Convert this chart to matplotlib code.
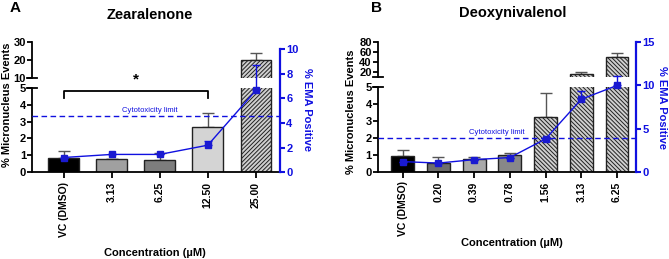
import matplotlib
matplotlib.use("Agg")
import matplotlib.pyplot as plt
import numpy as np

plt.rcParams["font.family"] = ["Liberation Sans", "DejaVu Sans"]
plt.rcParams["font.weight"] = "bold"
plt.rcParams["hatch.linewidth"] = 0.7
plt.rcParams["hatch.color"] = "#4a4a4a"

BLUE = "#1010e0"

# ---- Panel A: Zearalenone ----
zea_labels = ["VC (DMSO)", "3.13", "6.25", "12.50", "25.00"]
zea_mn = [0.83, 0.80, 0.75, 2.65, 20.0]
zea_mn_err = [0.43, 0.0, 0.42, 0.85, 4.0]
zea_ema = [1.2, 1.45, 1.45, 2.2, 6.65]
zea_ema_err = [0.0, 0.0, 0.0, 0.35, 2.05]
zea_colors = ["#000000", "#a0a0a0", "#7d7d7d", "#d4d4d4", "#cfcfcf"]
zea_hatch = ["", "", "", "", "////////"]
zea_cyto = 4.58

# ---- Panel B: Deoxynivalenol ----
don_labels = ["VC (DMSO)", "0.20", "0.39", "0.78", "1.56", "3.13", "6.25"]
don_mn = [0.92, 0.49, 0.75, 0.96, 3.2, 16.0, 50.0]
don_mn_err = [0.33, 0.35, 0.1, 0.16, 1.4, 2.5, 7.0]
don_ema = [1.17, 1.0, 1.4, 1.64, 3.8, 8.4, 10.0]
don_ema_err = [0.0, 0.0, 0.0, 0.0, 0.0, 0.95, 1.1]
don_colors = ["#000000", "#6e6e6e", "#a9a9a9", "#888888", "#cfcfcf", "#cfcfcf", "#cfcfcf"]
don_hatch = ["", "", "", "", "\\\\\\\\\\\\\\\\", "\\\\\\\\\\\\\\\\", "\\\\\\\\\\\\\\\\"]
don_cyto = 3.86

W, H = 669, 259
fig = plt.figure(figsize=(W / 100, H / 100), dpi=100)


def rect(x0, x1, ytop, ybot):
    return [x0 / W, 1 - ybot / H, (x1 - x0) / W, (ybot - ytop) / H]


def draw_panel(labels, mn, mn_err, ema, ema_err, colors, hatches, cyto,
               x0, x1, y0, y5, top_ytop, top_ybot, top_lim, top_ticks,
               r_ytop, r_max, r_ticks, xlim):
    n = len(labels)
    x = np.arange(n)
    ax = fig.add_axes(rect(x0, x1, y5, y0))
    axt = fig.add_axes(rect(x0, x1, top_ytop, top_ybot))
    axr = fig.add_axes(rect(x0, x1, r_ytop, y0))
    for a in (ax, axt):
        a.bar(x, mn, width=0.64, color=colors, edgecolor="#222222",
              linewidth=1.0, hatch=hatches, zorder=2)
        a.errorbar(x, mn, yerr=[np.zeros(n), mn_err], fmt="none",
                   ecolor="#555555", elinewidth=1.0, capsize=4, capthick=1.0,
                   zorder=1)
        a.set_xlim(*xlim)
        a.patch.set_alpha(0)
        a.spines["top"].set_visible(False)
        a.spines["right"].set_visible(False)
        for s in a.spines.values():
            s.set_linewidth(1.3)
        a.tick_params(axis="y", labelsize=8, width=1.3, length=3.5, pad=1)
    ax.set_ylim(0, 5)
    ax.set_yticks(range(6))
    ax.set_xticks(x)
    ax.set_xticklabels(labels, rotation=90, fontsize=7.5)
    ax.tick_params(axis="x", width=1.3, length=4, pad=3)
    axt.set_ylim(*top_lim)
    axt.set_yticks(top_ticks)
    axt.spines["bottom"].set_visible(False)
    axt.set_xticks([])
    # break caps
    axt.plot([-0.02, 0.02], [0, 0], transform=axt.transAxes, color="black",
             lw=1.3, clip_on=False)
    ax.plot([-0.02, 0.02], [1, 1], transform=ax.transAxes, color="black",
            lw=1.3, clip_on=False)

    axr.patch.set_alpha(0)
    axr.set_xlim(*xlim)
    axr.set_ylim(0, r_max)
    axr.set_yticks(r_ticks)
    axr.set_xticks([])
    for s in ("left", "top", "bottom"):
        axr.spines[s].set_visible(False)
    axr.spines["right"].set_color(BLUE)
    axr.spines["right"].set_linewidth(1.6)
    axr.yaxis.tick_right()
    axr.tick_params(axis="y", colors=BLUE, labelsize=8, width=1.5,
                    length=3.5, pad=1)
    axr.errorbar(x, ema, yerr=[np.zeros(n), ema_err], color=BLUE, lw=1.0,
                 marker="s", ms=4.5, mfc="#1a1ad0", mec="#1a1ad0",
                 capsize=3, elinewidth=1.0, zorder=5)
    axr.axhline(cyto, color=BLUE, lw=1.0, ls=(0, (4, 2.5)))
    return ax, axt, axr


axA, axAt, axAr = draw_panel(
    zea_labels, zea_mn, zea_mn_err, zea_ema, zea_ema_err, zea_colors,
    zea_hatch, zea_cyto, 32.3, 280, 172.3, 87.7, 41.7, 77.7, (10, 30),
    [10, 20, 30], 49, 10, [0, 2, 4, 6, 8, 10], (-0.65, 4.5))
axB, axBt, axBr = draw_panel(
    don_labels, don_mn, don_mn_err, don_ema, don_ema_err, don_colors,
    don_hatch, don_cyto, 378, 636, 171.7, 86.7, 41.7, 76.7, (10, 80),
    [20, 40, 60, 80], 42.3, 15, [0, 5, 10, 15], (-0.69, 6.53))

# significance bracket (panel A)
axA.plot([0, 0, 3, 3], [4.4, 4.8, 4.8, 4.4], color="black", lw=1.3,
         clip_on=False)
axA.text(1.5, 5.05, "*", ha="center", va="bottom", fontsize=11,
         fontweight="bold")

axAr.text(1.8, 4.75, "Cytotoxicity limit", color=BLUE, fontsize=5.5,
          ha="center", va="bottom", fontweight="normal")
axBr.text(2.64, 4.1, "Cytotoxicity limit", color=BLUE, fontsize=5.5,
          ha="center", va="bottom", fontweight="normal")

# titles, labels
fig.text(10 / W, 1 - 8 / H, "A", fontsize=11, fontweight="bold", va="center")
fig.text(371 / W, 1 - 8 / H, "B", fontsize=11, fontweight="bold", va="center")
fig.text(150 / W, 1 - 15 / H, "Zearalenone", fontsize=10.5, fontweight="bold",
         ha="center", va="center")
fig.text(513 / W, 1 - 13 / H, "Deoxynivalenol", fontsize=10.5,
         fontweight="bold", ha="center", va="center")
fig.text(7 / W, 1 - 105 / H, "% Micronucleus Events", rotation=90,
         fontsize=8, fontweight="bold", ha="center", va="center")
fig.text(351 / W, 1 - 112 / H, "% Micronucleus Events", rotation=90,
         fontsize=8, fontweight="bold", ha="center", va="center")
fig.text(307 / W, 1 - 110 / H, "% EMA Positive", rotation=-90, color=BLUE,
         fontsize=8, fontweight="bold", ha="center", va="center")
fig.text(662 / W, 1 - 108 / H, "% EMA Positive", rotation=-90, color=BLUE,
         fontsize=8, fontweight="bold", ha="center", va="center")
fig.text(155 / W, 1 - 253 / H, "Concentration (µM)", fontsize=8,
         fontweight="bold", ha="center", va="center")
fig.text(512 / W, 1 - 243 / H, "Concentration (µM)", fontsize=8,
         fontweight="bold", ha="center", va="center")

fig.savefig("out.png", dpi=100)
